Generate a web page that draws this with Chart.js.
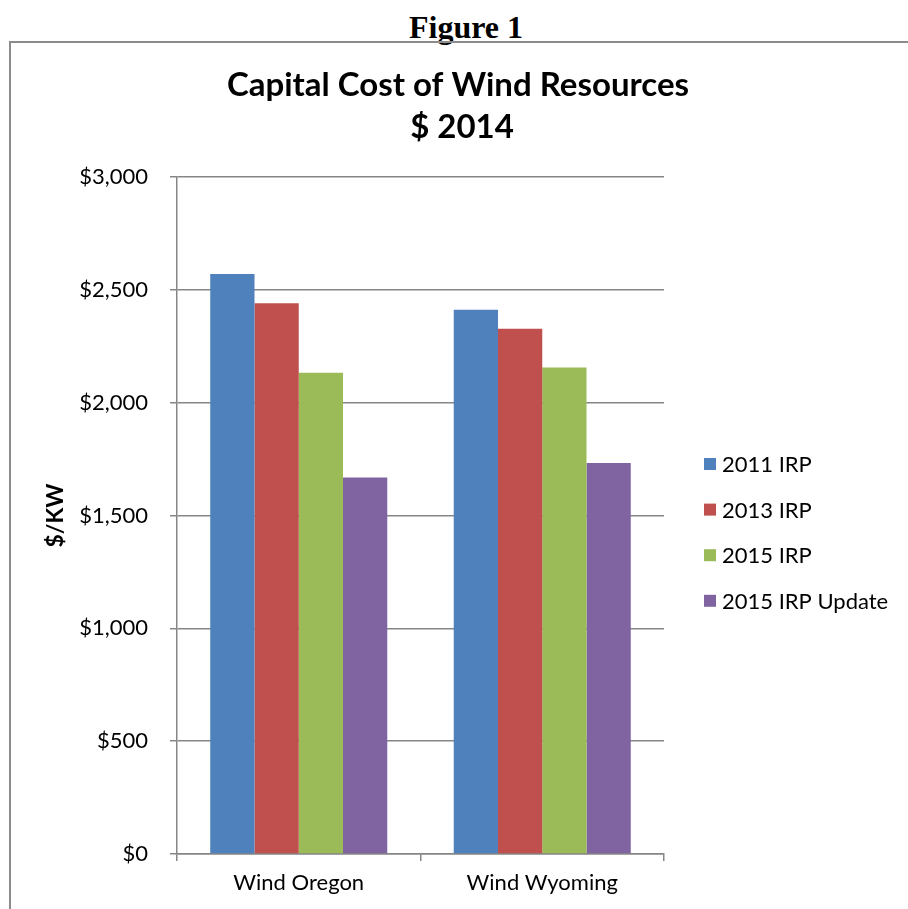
<!DOCTYPE html>
<html>
<head>
<meta charset="utf-8">
<script src="https://cdn.jsdelivr.net/npm/chart.js@4"></script>
<style>
  html, body { margin: 0; padding: 0; background: #fff; }
  #page { position: relative; width: 908px; height: 909px; overflow: hidden; }
  #figTitle {
    position: absolute; left: 366px; top: 11px; width: 200px;
    text-align: center; font: bold 32px "Liberation Serif", "Times New Roman", serif;
    line-height: 32px; color: #000;
  }
  #frame {
    position: absolute; left: 9px; top: 41px; width: 910px; height: 900px;
    border-top: 2px solid #8c8c8c; border-left: 2px solid #8c8c8c;
  }
  #cv { position: absolute; left: 0; top: 0; }
</style>
</head>
<body>
<div id="page">
  <div id="figTitle">Figure 1</div>
  <div id="frame"></div>
  <canvas id="cv" width="908" height="909"></canvas>
</div>
<script>
// Категории и значения ($/KW, в долларах 2014 г.)
const categories = ['Wind Oregon', 'Wind Wyoming'];
const seriesNames = ['2011 IRP', '2013 IRP', '2015 IRP', '2015 IRP Update'];
const irp2011 = [2570, 2412];
const irp2013 = [2440, 2327];
const irp2015 = [2133, 2156];
const irp2015Update = [1668, 1733];
const yTicks = [0, 500, 1000, 1500, 2000, 2500, 3000];
const titleLines = ['Capital Cost of Wind Resources', '$ 2014'];

const colors = ['#4F81BD', '#C0504D', '#9BBB59', '#8064A2'];
const axisColor = '#868686';
const FONT = 'Lato, "Open Sans", sans-serif';

// Заголовок по центру всей области (не только области графика)
const wideTitle = {
    id: 'wideTitle',
    afterDraw(chart) {
        const ctx = chart.ctx;
        ctx.save();
        ctx.font = 'bold 33px ' + FONT;
        ctx.fillStyle = '#000';
        ctx.textAlign = 'center';
        ctx.textBaseline = 'middle';
        ctx.fillText(titleLines[0], 458, 85);
        ctx.fillText(titleLines[1], 462, 127);
        ctx.restore();
    }
};

// Легенда справа от графика
const sideLegend = {
    id: 'sideLegend',
    afterDraw(chart) {
        const ctx = chart.ctx;
        const x = 704, y0 = 464, step = 45.6;
        ctx.save();
        ctx.font = '22px ' + FONT;
        ctx.textBaseline = 'middle';
        chart.data.datasets.forEach((ds, i) => {
            const y = y0 + i * step;
            ctx.fillStyle = ds.backgroundColor;
            ctx.fillRect(x, y - 6, 12, 12);
            ctx.fillStyle = '#000';
            ctx.fillText(ds.label, x + 18, y + 1);
        });
        ctx.restore();
    }
};

const seriesData = [irp2011, irp2013, irp2015, irp2015Update];

new Chart(document.getElementById('cv'), {
    type: 'bar',
    data: {
        labels: categories,
        datasets: seriesData.map((d, i) => ({
            label: seriesNames[i],
            data: d,
            backgroundColor: colors[i],
            borderWidth: 0,
            categoryPercentage: 0.727,
            barPercentage: 1.0
        }))
    },
    options: {
        responsive: false,
        animation: false,
        layout: { padding: { left: 40, right: 244, top: 177, bottom: 0 } },
        plugins: {
            legend: { display: false },
            tooltip: { enabled: false },
            title: { display: false }
        },
        scales: {
            x: {
                afterFit: s => { s.height = 55; },
                grid: { drawOnChartArea: false, offset: true, tickLength: 7, color: axisColor, lineWidth: 1.5 },
                border: { color: axisColor, width: 1.5 },
                ticks: { color: '#000', padding: 9, font: { family: FONT, size: 22 } }
            },
            y: {
                min: 0,
                max: 3000,
                afterFit: s => { s.width = 137; },
                afterBuildTicks: s => { s.ticks = yTicks.map(v => ({ value: v })); },
                grid: { color: axisColor, tickLength: 7, lineWidth: 1.5 },
                border: { color: axisColor, width: 1.5 },
                ticks: {
                    color: '#000',
                    padding: 22,
                    font: { family: FONT, size: 22 },
                    callback: v => '$' + v.toLocaleString('en-US')
                },
                title: {
                    display: true,
                    text: '$/KW',
                    color: '#000',
                    font: { family: FONT, size: 23, weight: 'bold' },
                    padding: { top: 2, bottom: 0 }
                }
            }
        }
    },
    plugins: [wideTitle, sideLegend]
});
</script>
</body>
</html>
